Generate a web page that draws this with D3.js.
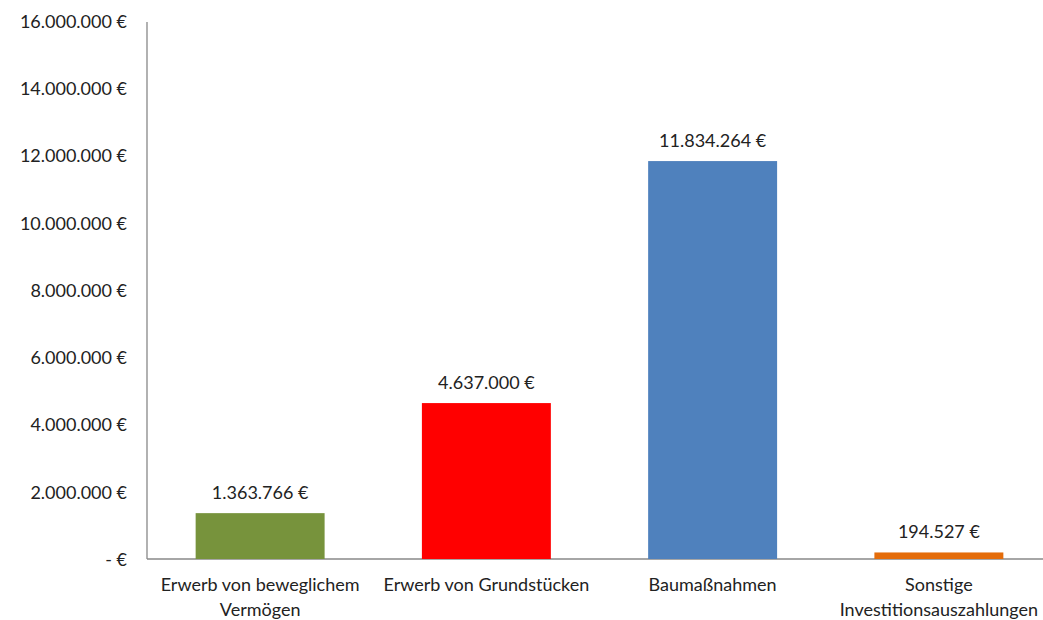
<!DOCTYPE html>
<html>
<head>
<meta charset="utf-8">
<script src="https://cdn.jsdelivr.net/npm/d3@7"></script>
<style>
  body { margin: 0; background: #fff; }
  svg text { font-family: Lato, "Open Sans", sans-serif; fill: #222; }
</style>
</head>
<body>
<svg id="chart"></svg>
<script>
var kategorien = [["Erwerb von beweglichem", "Vermögen"], ["Erwerb von Grundstücken"], ["Baumaßnahmen"], ["Sonstige", "Investitionsauszahlungen"]];
var werte = [1363766, 4637000, 11834264, 194527];
var farben = ["#77933C", "#FF0000", "#4F81BD", "#E46C0A"];
var yTicks = [0, 2000000, 4000000, 6000000, 8000000, 10000000, 12000000, 14000000, 16000000];

var config = { width: 1043, height: 620, left: 147, top: 21, bottom: 559, bandRight: 1052, fontSize: "18px" };

function euro(v) {
    if (v === 0) return "- €";
    return String(v).replace(/\B(?=(\d{3})+(?!\d))/g, ".") + " €";
}

var svg = d3.select("#chart")
    .attr("width", config.width)
    .attr("height", config.height);

var x = d3.scaleBand()
    .domain(d3.range(werte.length))
    .range([config.left, config.bandRight])
    .paddingInner(0.43)
    .paddingOuter(0.215);
var y = d3.scaleLinear()
    .domain([0, 16000000])
    .range([config.bottom, config.top]);

// y-Achse
var ejeY = d3.axisLeft(y).tickValues(yTicks).tickSize(0).tickPadding(0).tickFormat(euro);
var gY = svg.append("g")
    .attr("transform", "translate(" + (config.left - 20) + ",0)")
    .call(ejeY);
gY.select(".domain").remove();
gY.selectAll("text").style("font-size", config.fontSize).attr("dy", "0.35em");

svg.append("line")
    .attr("x1", config.left).attr("x2", config.left)
    .attr("y1", config.top + 1).attr("y2", config.bottom)
    .attr("stroke", "#888").attr("stroke-width", 1.3);
svg.append("line")
    .attr("x1", config.left).attr("x2", config.width)
    .attr("y1", config.bottom).attr("y2", config.bottom)
    .attr("stroke", "#888").attr("stroke-width", 1.3);

// Balken
svg.selectAll("rect.bar")
    .data(werte)
    .enter().append("rect")
    .attr("class", "bar")
    .attr("x", function(d, i) { return x(i); })
    .attr("width", x.bandwidth())
    .attr("y", function(d) { return y(d); })
    .attr("height", function(d) { return config.bottom - y(d); })
    .attr("fill", function(d, i) { return farben[i]; });

// Werte
svg.selectAll("text.wert")
    .data(werte)
    .enter().append("text")
    .attr("class", "wert")
    .attr("x", function(d, i) { return x(i) + x.bandwidth() / 2; })
    .attr("y", function(d) { return y(d) - 14; })
    .attr("text-anchor", "middle")
    .style("font-size", config.fontSize)
    .text(euro);

// Kategorien
var lab = svg.selectAll("text.kat")
    .data(kategorien)
    .enter().append("text")
    .attr("class", "kat")
    .attr("text-anchor", "middle")
    .style("font-size", config.fontSize)
    .attr("transform", function(d, i) { return "translate(" + (x(i) + x.bandwidth() / 2) + "," + (config.bottom + 32) + ")"; });
lab.selectAll("tspan")
    .data(function(d) { return d; })
    .enter().append("tspan")
    .attr("x", 0)
    .attr("dy", function(d, j) { return j === 0 ? 0 : 25; })
    .text(function(d) { return d; });
</script>
</body>
</html>
